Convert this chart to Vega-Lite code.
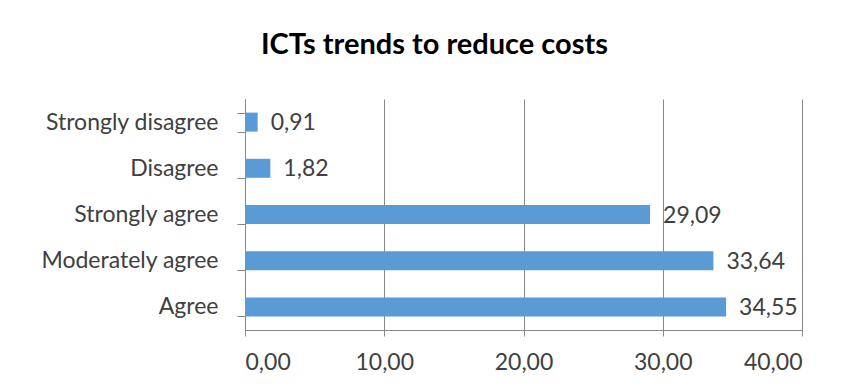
{
  "$schema": "https://vega.github.io/schema/vega-lite/v6.json",
  "width": 557,
  "height": 231,
  "autosize": {"type": "none"},
  "padding": {"left": 245, "top": 99, "right": 44, "bottom": 62},
  "background": "white",
  "config": {
    "locale": {"number": {"decimal": ",", "thousands": ".", "grouping": [3], "currency": ["", ""]}},
    "view": {"stroke": null},
    "font": "Lato"
  },
  "title": {
    "text": "ICTs trends to reduce costs",
    "font": "Lato",
    "fontSize": 29,
    "fontWeight": "bold",
    "color": "#000000",
    "anchor": "middle",
    "dx": -89,
    "offset": 28
  },
  "data": {
    "values": [
      {"cat": "Strongly disagree", "v": 0.91},
      {"cat": "Disagree", "v": 1.82},
      {"cat": "Strongly agree", "v": 29.09},
      {"cat": "Moderately agree", "v": 33.64},
      {"cat": "Agree", "v": 34.55}
    ]
  },
  "encoding": {
    "y": {
      "field": "cat",
      "type": "nominal",
      "sort": null,
      "scale": {"paddingInner": 0.59, "paddingOuter": 0.295},
      "axis": {
        "title": null,
        "domainColor": "#888888",
        "tickColor": "#888888",
        "tickSize": 8,
        "tickBand": "extent",
        "labelFont": "Lato",
        "labelFontSize": 23,
        "labelColor": "#404040",
        "labelPadding": 19,
        "labelLimit": 300
      }
    },
    "x": {
      "field": "v",
      "type": "quantitative",
      "scale": {"domain": [0, 40], "nice": false},
      "axis": {
        "title": null,
        "values": [0, 10, 20, 30, 40],
        "format": ".2f",
        "grid": true,
        "gridColor": "#888888",
        "domainColor": "#888888",
        "tickColor": "#888888",
        "tickSize": 6,
        "labelFont": "Lato",
        "labelFontSize": 23,
        "labelColor": "#404040",
        "labelPadding": 15
      }
    }
  },
  "layer": [
    {"mark": {"type": "bar", "color": "#5B9BD5", "size": 19}},
    {
      "mark": {"type": "text", "align": "left", "baseline": "middle", "dx": 13, "dy": 1, "fontSize": 23, "font": "Lato", "color": "#404040"},
      "encoding": {"text": {"field": "v", "type": "quantitative", "format": ".2f"}}
    }
  ]
}
